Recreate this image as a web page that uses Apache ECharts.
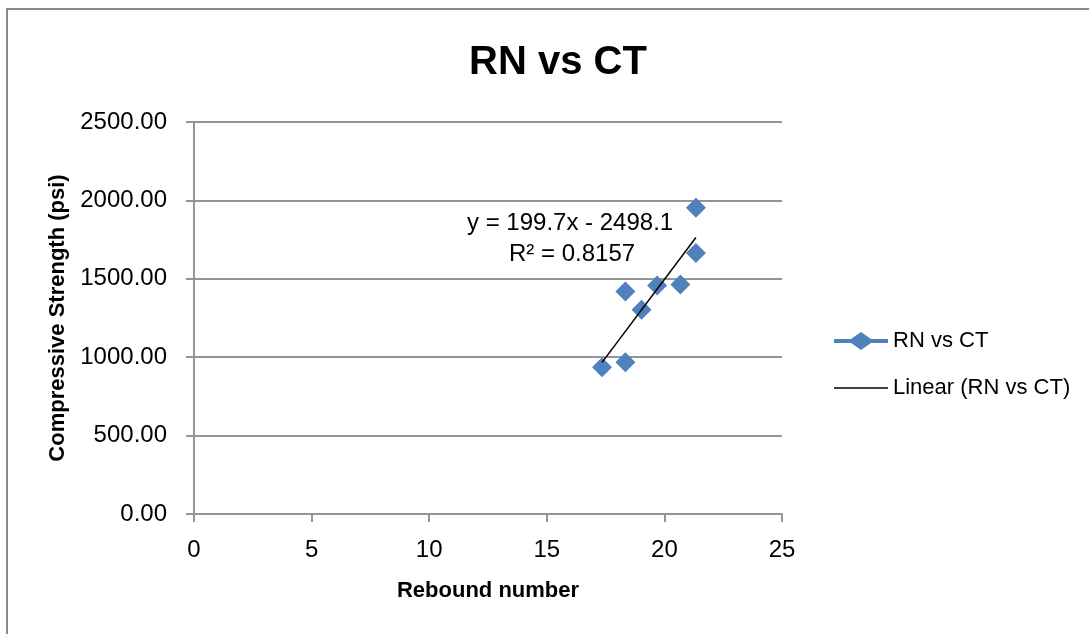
<!DOCTYPE html>
<html>
<head>
<meta charset="utf-8">
<script src="https://cdn.jsdelivr.net/npm/echarts@6/dist/echarts.min.js"></script>
<style>
  html, body { margin: 0; padding: 0; background: #fff; }
  #chart { width: 1089px; height: 634px; }
</style>
</head>
<body>
<div id="chart"></div>
<script>
// rebound number vs compressive strength
const reboundNumber = [17.35, 18.34, 18.34, 19.03, 19.69, 20.68, 21.34, 21.34];
const strengthPsi = [936, 968, 1419, 1302, 1458, 1464, 1953, 1664];

// ends of the linear trendline
const trendX = [17.35, 21.34];
const trendY = [967, 1763];

const xTicks = [0, 25, 5];      // min, max, interval
const yTicks = [0, 2500, 500];

const eqLine = 'y = 199.7x - 2498.1';
const r2Line = 'R² = 0.8157';

const FONT = "'Liberation Sans Narrow', 'Arial Narrow', 'Liberation Sans', Arial, sans-serif";
const GRID = '#959595';
const BLUE = '#4F81BD';

const chart = echarts.init(document.getElementById('chart'));

const option = {
  animation: false,
  title: {
    text: 'RN vs CT',
    left: 553,
    top: 38,
    textAlign: 'center',
    textStyle: { fontFamily: FONT, fontSize: 40, fontWeight: 'bold', color: '#000' }
  },
  grid: { left: 194, top: 122, right: 307, bottom: 120 },
  legend: {
    orient: 'vertical',
    left: 834,
    top: 330,
    itemWidth: 54,
    itemHeight: 18,
    itemGap: 25,
    padding: 0,
    textStyle: { fontFamily: FONT, fontSize: 22, color: '#000' },
    data: [
      { name: 'RN vs CT', icon: 'path://M0,7 L17,7 L27,0 L37,7 L54,7 L54,11 L37,11 L27,18 L17,11 L0,11 Z' },
      { name: 'Linear (RN vs CT)', icon: 'path://M0,0 M0,8.25 L54,8.25 L54,9.75 L0,9.75 Z M54,18' }
    ]
  },
  xAxis: {
    type: 'value',
    min: xTicks[0], max: xTicks[1], interval: xTicks[2],
    name: 'Rebound number',
    nameLocation: 'middle',
    nameGap: 66,
    nameTextStyle: { fontFamily: FONT, fontSize: 22, fontWeight: 'bold', color: '#000' },
    axisLine: { show: true, onZero: false, lineStyle: { color: GRID, width: 2 } },
    axisTick: { show: true, length: 8, lineStyle: { color: GRID, width: 2 } },
    axisLabel: { margin: 24, fontFamily: FONT, fontSize: 24, color: '#000' },
    splitLine: { show: false }
  },
  yAxis: {
    type: 'value',
    min: yTicks[0], max: yTicks[1], interval: yTicks[2],
    name: 'Compressive Strength (psi)',
    nameLocation: 'middle',
    nameGap: 125,
    nameTextStyle: { fontFamily: FONT, fontSize: 22, fontWeight: 'bold', color: '#000' },
    axisLine: { show: true, lineStyle: { color: GRID, width: 2 } },
    axisTick: { show: true, length: 8, lineStyle: { color: GRID, width: 2 } },
    axisLabel: {
      margin: 27, fontFamily: FONT, fontSize: 24, color: '#000',
      formatter: v => v.toFixed(2)
    },
    splitLine: { show: true, lineStyle: { color: GRID, width: 2 } }
  },
  graphic: [
    {
      type: 'rect', silent: true, z: -1,
      shape: { x: 7, y: 9, width: 1200, height: 800 },
      style: { fill: 'none', stroke: '#8a8a8a', lineWidth: 2 }
    },
    {
      type: 'text', left: 467, top: 211, silent: true,
      style: { text: eqLine, fontFamily: FONT, fontSize: 24, fill: '#000' }
    },
    {
      type: 'text', left: 509, top: 242, silent: true,
      style: { text: r2Line, fontFamily: FONT, fontSize: 24, fill: '#000' }
    }
  ],
  series: [
    {
      name: 'RN vs CT',
      type: 'scatter',
      symbol: 'diamond',
      symbolSize: 20,
      itemStyle: { color: BLUE, opacity: 1 },
      data: reboundNumber.map((x, i) => [x, strengthPsi[i]])
    },
    {
      name: 'Linear (RN vs CT)',
      type: 'line',
      symbol: 'none',
      lineStyle: { color: '#000', width: 1.5 },
      itemStyle: { color: '#000' },
      z: 3,
      data: trendX.map((x, i) => [x, trendY[i]])
    }
  ]
};

chart.setOption(option);
</script>
</body>
</html>
